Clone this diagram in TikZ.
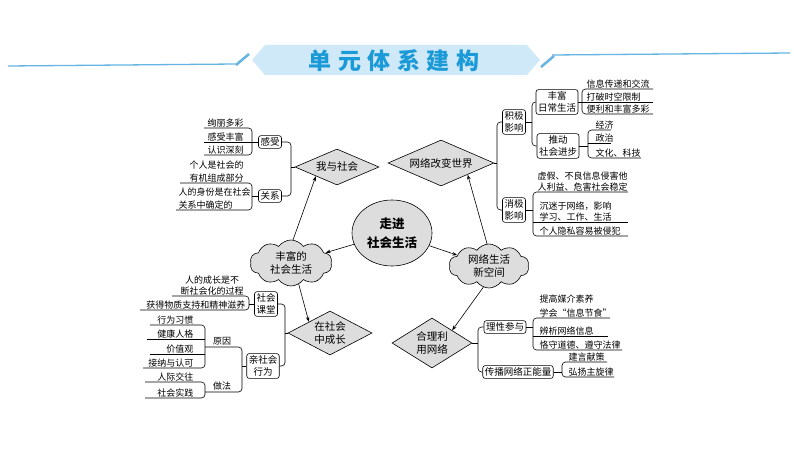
\documentclass[tikz,border=0pt]{standalone}
\usepackage{fontspec}
\setmainfont{Noto Sans CJK SC}
\usetikzlibrary{shapes.geometric,shapes.symbols,arrows.meta,calc}
\definecolor{fillgray}{RGB}{221,221,221}
\definecolor{bannerblue}{RGB}{208,233,248}
\definecolor{titleblue}{RGB}{27,154,216}
\definecolor{lineblue}{RGB}{100,180,228}
\begin{document}
\begin{tikzpicture}[x=1pt,y=-1pt,
  every node/.style={font=\fontsize{9}{11}\selectfont, inner sep=0.5pt},
  box/.style={draw, rounded corners=2.5pt, fill=white, inner sep=2pt, align=center, line width=0.6pt, font=\fontsize{9.5}{12}\selectfont},
  ul/.style={line width=0.6pt},
  brk/.style={line width=0.6pt, rounded corners=3.5pt},
  dia/.style={diamond, draw, fill=fillgray, line width=0.6pt, inner sep=0pt, align=center, font=\fontsize{10.5}{13.5}\selectfont},
  cld/.style={cloud, draw, fill=fillgray, line width=0.6pt, cloud puffs=10, cloud puff arc=110, aspect=1.8, inner sep=0pt, align=center, font=\fontsize{10.5}{13.5}\selectfont},
  arr/.style={line width=0.6pt, -{Stealth[length=5pt,width=3.5pt]}},
  iL/.style={anchor=south west, align=left},
  iR/.style={anchor=south east, align=right},
]
\useasboundingbox (0,0) rectangle (794,449);
\fill[white] (0,0) rectangle (794,449);

% ---------- title ----------
\fill[bannerblue] (252,60) -- (265,45) -- (527,45) -- (540,60) -- (527,75) -- (265,75) -- cycle;
\node[font=\fontsize{23}{23}\selectfont\bfseries, text=titleblue] (title) at (394,61)
  {单\hspace{6.5pt}元\hspace{6.5pt}体\hspace{6.5pt}系\hspace{6.5pt}建\hspace{6.5pt}构};
\draw[lineblue, line width=1.3pt] (8,66) -- (236,64);
\draw[lineblue, line width=2.5pt] (236,65) -- (249,54);
\draw[lineblue, line width=2.5pt] (541,67) -- (554,56);
\draw[lineblue, line width=1.3pt] (552,55) -- (790,53);

% ---------- central nodes ----------
\node[ellipse, draw, fill=fillgray, line width=0.6pt, minimum width=80, minimum height=66, align=center,
      font=\fontsize{12.5}{19}\selectfont\bfseries] (c) at (392,233) {走进\\社会生活};
\node[cld, minimum width=82, minimum height=46] (r1) at (291,263) {丰富的\\社会生活};
\node[cld, minimum width=80, minimum height=44] (r2) at (489,266) {网络生活\\新空间};
\node[dia, aspect=2.3, minimum width=84, minimum height=36] (d1) at (337,167) {我与社会};
\node[dia, aspect=2.3, minimum width=106, minimum height=46] (d2) at (441,163) {网络改变世界};
\node[dia, aspect=1.9, minimum width=84, minimum height=44] (d3) at (330,333) {在社会\\中成长};
\node[dia, aspect=1.6, minimum width=80, minimum height=50] (d4) at (432,343) {合理利\\用网络};

\draw[arr] (c) -- (r1);
\draw[arr] (c) -- (r2);
\draw[arr] (r1.85) -- (d1.south west);
\draw[arr] (r1.-70) -- (d3.north west);
\draw[arr] (r2.95) -- (d2.south east);
\draw[arr] (r2.-105) -- (d4.north east);

% ---------- 我与社会 ----------
\node[box] (gs) at (270,142) {感受};
\node[box] (gx) at (270,196) {关系};
\coordinate (b1) at (291,167);
\draw[brk] (gs.east) -- (b1 |- gs) -- (b1 |- gx) -- (gx.east);
\draw[ul] (d1.west) -- (b1);

\node[iL] (a1) at (207,128) {绚丽多彩};
\node[iL] (a2) at (207,142) {感受丰富};
\node[iL] (a3) at (207,155) {认识深刻};
\draw[brk] (204,128) -- (252,128) -- (252,155) -- (204,155);
\draw[ul] (204,142) -- (gs.west);

\node[iL, align=center, font=\fontsize{9}{13.3}\selectfont] (a4) at (189,183) {个人是社会的\\有机组成部分};
\node[iL, align=left, font=\fontsize{9}{13.3}\selectfont] (a5) at (178,210) {人的身份是在社会\\关系中确定的};
\draw[brk] (180,183) -- (252,183) -- (252,210) -- (176,210);
\draw[ul] (252,196) -- (gx.west);

% ---------- 在社会中成长 ----------
\node[box] (sk) at (266,304) {社会\\课堂};
\node[box] (qs) at (263,366) {亲社会\\行为};
\coordinate (b3) at (285,333);
\draw[brk] (sk.east) -- (b3 |- sk) -- (b3 |- qs) -- (qs.east);
\draw[ul] (d3.west) -- (b3);

\node[anchor=south, align=center] (a6) at (212,296) {人的成长是不\\断社会化的过程};
\node[iR] (a7) at (246,310) {获得物质支持和精神滋养};
\draw[brk] (172,296) -- (249,296) -- (249,310) -- (140,310);
\draw[ul] (249,304) -- (sk.west);

\node[anchor=south] (yy) at (222,346) {原因};
\node[anchor=south] (zf) at (222,391) {做法};
\draw[brk] (205,347) -- (242,347) -- (242,392) -- (205,392);
\draw[ul] (242,366) -- (qs.west);

\node[iR] (a8) at (194,325) {行为习惯};
\node[iR] (a9) at (194,339) {健康人格};
\node[iR] (a10) at (194,354) {价值观};
\node[iR] (a11) at (194,368) {接纳与认可};
\draw[brk] (150,325) -- (205,325) -- (205,368) -- (143,368);
\draw[ul] (147,339) -- (205,339);
\draw[ul] (150,354) -- (205,354);

\node[iR] (a12) at (194,382) {人际交往};
\node[iR] (a13) at (194,398) {社会实践};
\draw[brk] (145,382) -- (205,382) -- (205,398) -- (145,398);

% ---------- 网络改变世界 ----------
\node[box] (jj) at (514,122) {积极\\影响};
\node[box] (xj) at (514,210) {消极\\影响};
\coordinate (b2) at (497,163);
\draw[brk] (jj.west) -- (b2 |- jj) -- (b2 |- xj) -- (xj.west);
\draw[ul] (d2.east) -- (b2);

\node[box] (fr) at (557,102) {丰富\\日常生活};
\node[box] (td) at (558,146) {推动\\社会进步};
\coordinate (b21) at (532,124);
\draw[brk] (fr.west) -- (b21 |- fr) -- (b21 |- td) -- (td.west);
\draw[ul] (jj.east) -- (b21 |- jj);

\node[iL] (a14) at (586,89) {信息传递和交流};
\node[iL] (a15) at (586,102) {打破时空限制};
\node[iL] (a16) at (586,114) {便利和丰富多彩};
\draw[brk] (653,89) -- (582,89) -- (582,114) -- (653,114);
\draw[ul] (fr.east) -- (653,102);

\node[iL] (a17) at (595,130) {经济};
\node[iL] (a18) at (595,143) {政治};
\node[iL] (a19) at (595,158) {文化、科技};
\draw[brk] (611,130) -- (588,130) -- (588,158) -- (641,158);
\draw[ul] (588,143) -- (611,143);
\draw[ul] (td.east) -- (588,146);

\node[iL] (a20) at (537,192) {虚假、不良信息侵害他\\人利益、危害社会稳定};
\node[iL] (a21) at (539,222) {沉迷于网络，影响\\学习、工作、生活};
\node[iL] (a22) at (539,236) {个人隐私容易被侵犯};
\draw[brk] (628,192) -- (533,192) -- (533,236) -- (628,236);
\draw[ul] (533,222) -- (628,222);
\draw[ul] (xj.east) -- (533,210);

% ---------- 合理利用网络 ----------
\node[box] (lx) at (505,327) {理性参与};
\node[box] (cb) at (518,372) {传播网络正能量};
\coordinate (b4) at (478,343);
\draw[brk] (lx.west) -- (b4 |- lx) -- (b4 |- cb) -- (cb.west);
\draw[ul] (d4.east) -- (b4);

\node[iL, font=\fontsize{9}{14}\selectfont] (a23) at (539,318) {提高媒介素养\\学会“信息节食”};
\node[iL] (a24) at (539,336) {辨析网络信息};
\node[iL] (a25) at (539,350) {恪守道德、遵守法律};
\draw[brk] (610,318) -- (533,318) -- (533,350) -- (622,350);
\draw[ul] (533,336) -- (608,336);
\draw[ul] (lx.east) -- (533,327);

\node[iL] (a26) at (568,362) {建言献策};
\node[iL] (a27) at (568,377) {弘扬主旋律};
\draw[brk] (607,362) -- (562,362) -- (562,377) -- (614,377);
\draw[ul] (cb.east) -- (562,372);
\end{tikzpicture}
\end{document}
